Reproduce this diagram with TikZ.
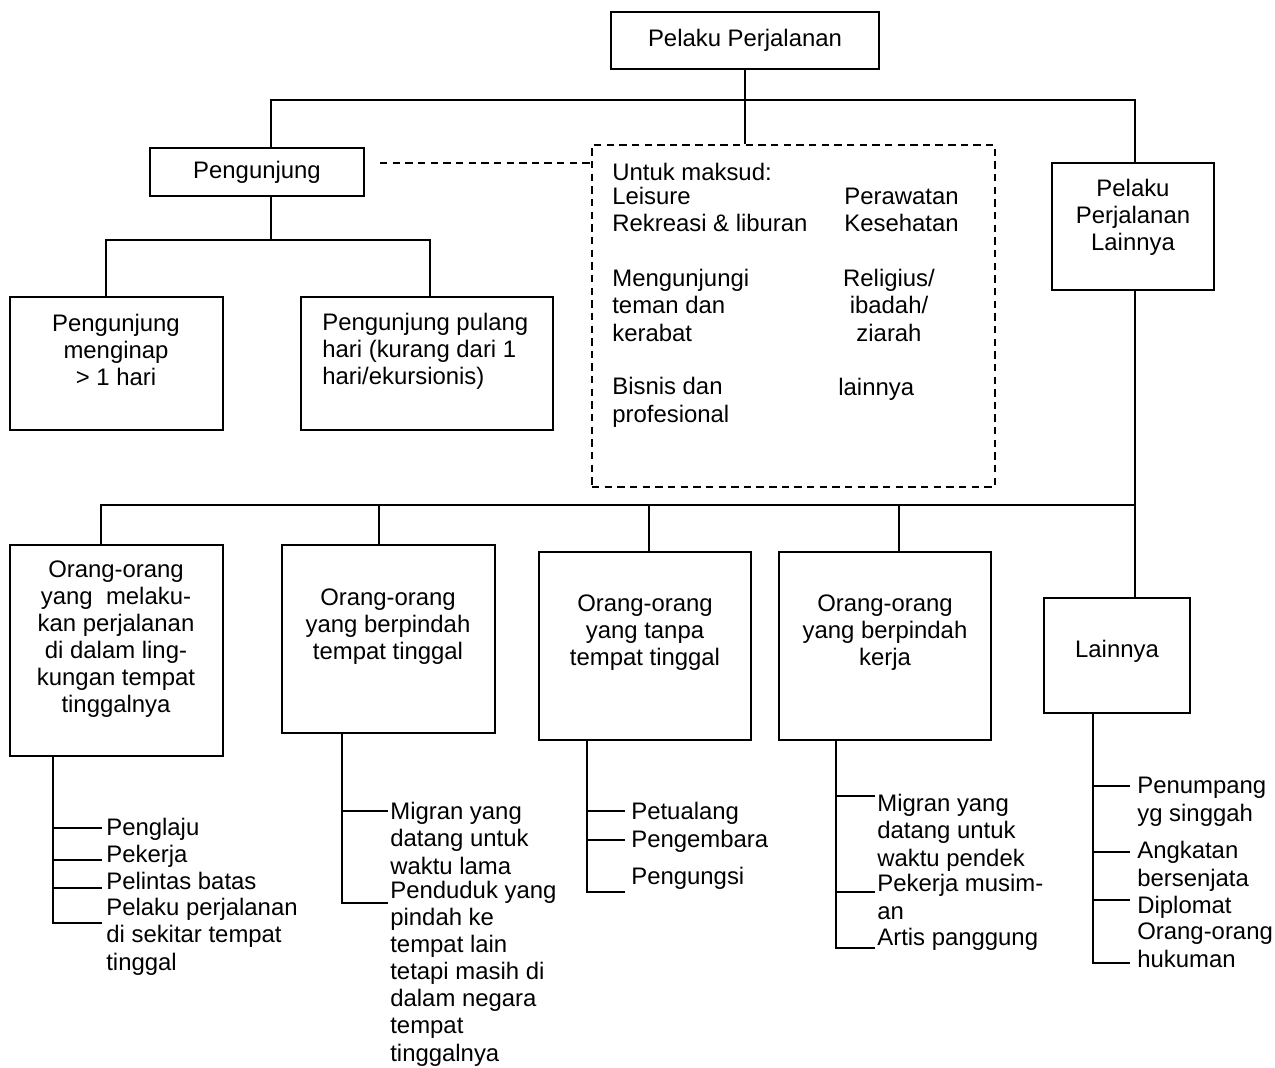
\documentclass[tikz,border=0pt]{standalone}
\usepackage{fontspec}
\setmainfont{Liberation Sans}
\usetikzlibrary{calc}
\newcommand\diagfont{\fontsize{13.6}{15.4}\selectfont}
\tikzset{
  box/.style={draw, line width=1.1pt, inner sep=0pt, font=\diagfont},
  boxtext/.style={align=center, inner sep=0pt, font=\diagfont},
  leaf/.style={anchor=base west, align=left, inner sep=0pt, font=\diagfont},
  link/.style={line width=1.1pt},
  dashline/.style={line width=1.1pt, dash pattern=on 4.2pt off 3pt},
}

\begin{document}
\begin{tikzpicture}[x=0.02cm,y=-0.02cm]
\useasboundingbox (0,0) rectangle (1275,1068);
% kotak atas
\node[box, minimum width=5.36cm, minimum height=1.14cm] (pelaku) at (745,40.5) {Pelaku Perjalanan};
\node[box, minimum width=4.28cm, minimum height=0.96cm] (peng) at (257,172) {Pengunjung};
\node[draw, dashline, minimum width=8.06cm, minimum height=6.84cm] (maksud) at (793.5,316) {};
\node[box, minimum width=3.24cm, minimum height=2.54cm] (ppl) at (1133,226.5) {};
\node[boxtext] (ppl-t) at (1133,217) {Pelaku\\Perjalanan\\Lainnya};
\node[box, minimum width=4.26cm, minimum height=2.66cm] (inap) at (116.5,363.5) {};
\node[boxtext] (inap-t) at (116,350) {Pengunjung\\menginap\\> 1 hari};
\node[box, minimum width=5.04cm, minimum height=2.66cm] (pulang) at (427,363.5) {};
\node[boxtext, anchor=west, align=left] (pulang-t) at (322,351) {Pengunjung pulang\\hari (kurang dari 1\\hari/ekursionis)};
% isi kotak maksud (base = baris terakhir)
\node[leaf] (u0) at (612,180) {Untuk maksud:};
\node[leaf] (u1) at (612,232) {Leisure\\Rekreasi \& liburan};
\node[leaf] (u2) at (612,341) {Mengunjungi\\teman dan\\kerabat};
\node[leaf] (u3) at (612,422) {Bisnis dan\\profesional};
\node[leaf] (v1) at (844,232) {Perawatan\\Kesehatan};
\node[leaf, anchor=base, align=center] (v2) at (889,341) {Religius/\\ibadah/\\ziarah};
\node[leaf] (v3) at (838,395) {lainnya};
% kotak bawah
\node[box, minimum width=4.26cm, minimum height=4.22cm] (dalam) at (116.5,650.5) {};
\node[boxtext] (dalam-t) at (116,639) {Orang-orang\\yang~ melaku-\\kan perjalanan\\di dalam ling-\\kungan tempat\\tinggalnya};
\node[box, minimum width=4.26cm, minimum height=3.76cm] (pindah) at (388.5,639) {};
\node[boxtext] (pindah-t) at (388,627) {Orang-orang\\yang berpindah\\tempat tinggal};
\node[box, minimum width=4.24cm, minimum height=3.76cm] (tanpa) at (645,646) {};
\node[boxtext] (tanpa-t) at (645,633) {Orang-orang\\yang tanpa\\tempat tinggal};
\node[box, minimum width=4.24cm, minimum height=3.76cm] (kerja) at (885,646) {};
\node[boxtext] (kerja-t) at (885,633) {Orang-orang\\yang berpindah\\kerja};
\node[box, minimum width=2.92cm, minimum height=2.3cm] (lain) at (1117,655.5) {};
\node[boxtext] (lain-t) at (1117,651) {Lainnya};
% garis pohon atas
\coordinate (k1) at (271,100);
\coordinate (k2) at (1135,100);
\coordinate (k3) at (106,240);
\coordinate (k4) at (430,240);
\draw[link] (pelaku.south) -- (pelaku.south |- maksud.north);
\draw[link] (peng.north -| k1) |- (k2) -- (k2 |- ppl.north);
\draw[link] (peng.south -| k1) -- (k1 |- k3);
\draw[link] (inap.north -| k3) |- (k4) -- (k4 |- pulang.north);
\coordinate (d0) at (380,163);
\draw[dashline] (d0) -- (d0 -| maksud.west);
% garis pohon bawah
\coordinate (m1) at (101,505);
\coordinate (m2) at (379,505);
\coordinate (m3) at (649,505);
\coordinate (m4) at (899,505);
\coordinate (m5) at (1135,505);
\draw[link] (ppl.south -| m5) -- (m5 |- lain.north);
\draw[link] (dalam.north -| m1) |- (m5);
\draw[link] (m2) -- (m2 |- pindah.north);
\draw[link] (m3) -- (m3 |- tanpa.north);
\draw[link] (m4) -- (m4 |- kerja.north);
% rincian
\node[leaf] (a1) at (106,835) {Penglaju};
\node[leaf] (a2) at (106,862) {Pekerja};
\node[leaf] (a3) at (106,889) {Pelintas batas};
\node[leaf] (a4) at (106,970) {Pelaku perjalanan\\di sekitar tempat\\tinggal};
\coordinate (ta) at (53,756);
\draw[link] ([shift={(-4,-7)}]a1.base west) -| (ta);
\draw[link] ([shift={(-4,-2)}]a2.base west) -| (ta);
\draw[link] ([shift={(-4,-1)}]a3.base west) -| (ta);
\draw[link] ([shift={(-4,-47)}]a4.base west) -| (ta);
\node[leaf] (b1) at (390,874) {Migran yang\\datang untuk\\waktu lama};
\node[leaf] (b2) at (390,1061) {Penduduk yang\\pindah ke\\tempat lain\\tetapi masih di\\dalam negara\\tempat\\tinggalnya};
\coordinate (tb) at (342,733);
\draw[link] ([shift={(-2,-63)}]b1.base west) -| (tb);
\draw[link] ([shift={(-2,-158)}]b2.base west) -| (tb);
\node[leaf] (c1) at (631,819) {Petualang};
\node[leaf] (c2) at (631,847) {Pengembara};
\node[leaf] (c3) at (631,884) {Pengungsi};
\coordinate (tc) at (587,740);
\draw[link] ([shift={(-6,-8)}]c1.base west) -| (tc);
\draw[link] ([shift={(-6,-7)}]c2.base west) -| (tc);
\draw[link] ([shift={(-6,8)}]c3.base west) -| (tc);
\node[leaf] (d1) at (877,866) {Migran yang\\datang untuk\\waktu pendek};
\node[leaf] (d2) at (877,919) {Pekerja musim-\\an};
\node[leaf] (d3) at (877,945) {Artis panggung};
\coordinate (td) at (836,740);
\draw[link] ([shift={(-2,-70)}]d1.base west) -| (td);
\draw[link] ([shift={(-2,-27)}]d2.base west) -| (td);
\draw[link] ([shift={(-2,3)}]d3.base west) -| (td);
\node[leaf] (e1) at (1137,821) {Penumpang\\yg singgah};
\node[leaf] (e2) at (1137,886) {Angkatan\\bersenjata};
\node[leaf] (e3) at (1137,913) {Diplomat};
\node[leaf] (e4) at (1137,967) {Orang-orang\\hukuman};
\coordinate (te) at (1093,713);
\draw[link] ([shift={(-7,-35)}]e1.base west) -| (te);
\draw[link] ([shift={(-7,-34)}]e2.base west) -| (te);
\draw[link] ([shift={(-7,-13)}]e3.base west) -| (te);
\draw[link] ([shift={(-7,-4)}]e4.base west) -| (te);
\end{tikzpicture}
\end{document}
